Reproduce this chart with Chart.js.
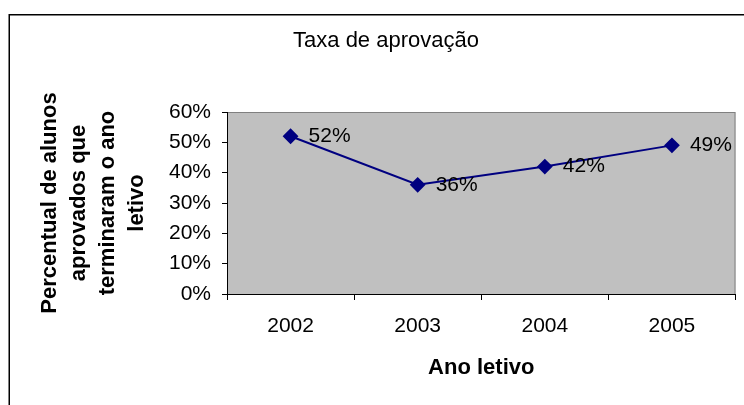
<!DOCTYPE html>
<html>
<head>
<meta charset="utf-8">
<script src="https://cdn.jsdelivr.net/npm/chart.js@4/dist/chart.umd.min.js"></script>
<style>
  html, body { margin: 0; padding: 0; background: #fff; overflow: hidden; }
  canvas { display: block; }
</style>
</head>
<body>
<canvas id="taxa" width="744" height="405"></canvas>
<script>
// data
const years = ['2002', '2003', '2004', '2005'];
const approvalRate = [52, 36, 42, 49];
const yTicks = [0, 10, 20, 30, 40, 50, 60];

const chartTitle = 'Taxa de aprovação';
const yTitle = ['Percentual de alunos', 'aprovados que', 'terminaram o ano', 'letivo'];
const xTitle = 'Ano letivo';

const FONT = '"Liberation Sans", Arial, sans-serif';
const NAVY = '#000080';

// gray plot area + outer frame
const plotBackground = {
  id: 'plotBackground',
  beforeDraw(chart) {
    const { ctx, chartArea: a } = chart;
    ctx.save();
    // outer frame (runs off the right and bottom edge)
    ctx.strokeStyle = '#000';
    ctx.lineWidth = 1.5;
    ctx.strokeRect(9.25, 14.75, 800, 500);
    // plot area
    ctx.fillStyle = '#c0c0c0';
    ctx.fillRect(a.left, a.top, a.right - a.left, a.bottom - a.top);
    ctx.strokeStyle = '#808080';
    ctx.lineWidth = 1;
    ctx.strokeRect(a.left + 0.5, a.top + 0.5, a.right - a.left - 1, a.bottom - a.top);
    ctx.restore();
  }
};

// value labels to the right of each point
const valueLabels = {
  id: 'valueLabels',
  afterDatasetsDraw(chart) {
    const { ctx } = chart;
    const meta = chart.getDatasetMeta(0);
    ctx.save();
    ctx.font = '21px ' + FONT;
    ctx.fillStyle = '#000';
    ctx.textAlign = 'left';
    ctx.textBaseline = 'middle';
    meta.data.forEach((pt, i) => {
      ctx.fillText(approvalRate[i] + '%', pt.x + 18, pt.y);
    });
    ctx.restore();
  }
};

const ctx = document.getElementById('taxa').getContext('2d');
new Chart(ctx, {
  type: 'line',
  data: {
    labels: years,
    datasets: [{
      data: approvalRate,
      borderColor: NAVY,
      backgroundColor: NAVY,
      borderWidth: 2,
      pointStyle: 'rectRot',
      pointRadius: 6.5,
      pointBackgroundColor: NAVY,
      pointBorderColor: NAVY,
      tension: 0,
      clip: false
    }]
  },
  options: {
    responsive: false,
    animation: false,
    events: [],
    layout: { padding: { left: 35, right: 7, top: 0, bottom: 25 } },
    plugins: {
      legend: { display: false },
      tooltip: { enabled: false },
      title: {
        display: true,
        text: chartTitle,
        color: '#000',
        font: { family: FONT, size: 22, weight: 'normal', lineHeight: '24px' },
        padding: { top: 29, bottom: 59 }
      }
    },
    scales: {
      x: {
        type: 'category',
        offset: true,
        grid: {
          offset: true,
          drawOnChartArea: false,
          drawTicks: true,
          tickLength: 6,
          color: '#000'
        },
        border: { display: true, color: '#000', width: 1 },
        ticks: {
          color: '#000',
          padding: 14,
          maxRotation: 0,
          font: { family: FONT, size: 21, lineHeight: '24px' }
        },
        title: {
          display: true,
          text: xTitle,
          color: '#000',
          padding: 0,
          font: { family: FONT, size: 22, weight: 'bold', lineHeight: '24px' }
        },
        afterFit(scale) { scale.height = 86; }
      },
      y: {
        min: 0,
        max: 60,
        afterBuildTicks(scale) { scale.ticks = yTicks.map(v => ({ value: v })); },
        grid: {
          drawOnChartArea: false,
          drawTicks: true,
          tickLength: 5,
          color: '#000'
        },
        border: { display: true, color: '#000', width: 1 },
        ticks: {
          color: '#000',
          padding: 11,
          font: { family: FONT, size: 21, lineHeight: '24px' },
          callback: v => v + '%'
        },
        title: {
          display: true,
          text: yTitle,
          color: '#000',
          padding: 0,
          font: { family: FONT, size: 22, weight: 'bold', lineHeight: '29px' }
        },
        afterFit(scale) { scale.width = 192; }
      }
    }
  },
  plugins: [plotBackground, valueLabels]
});
</script>
</body>
</html>
